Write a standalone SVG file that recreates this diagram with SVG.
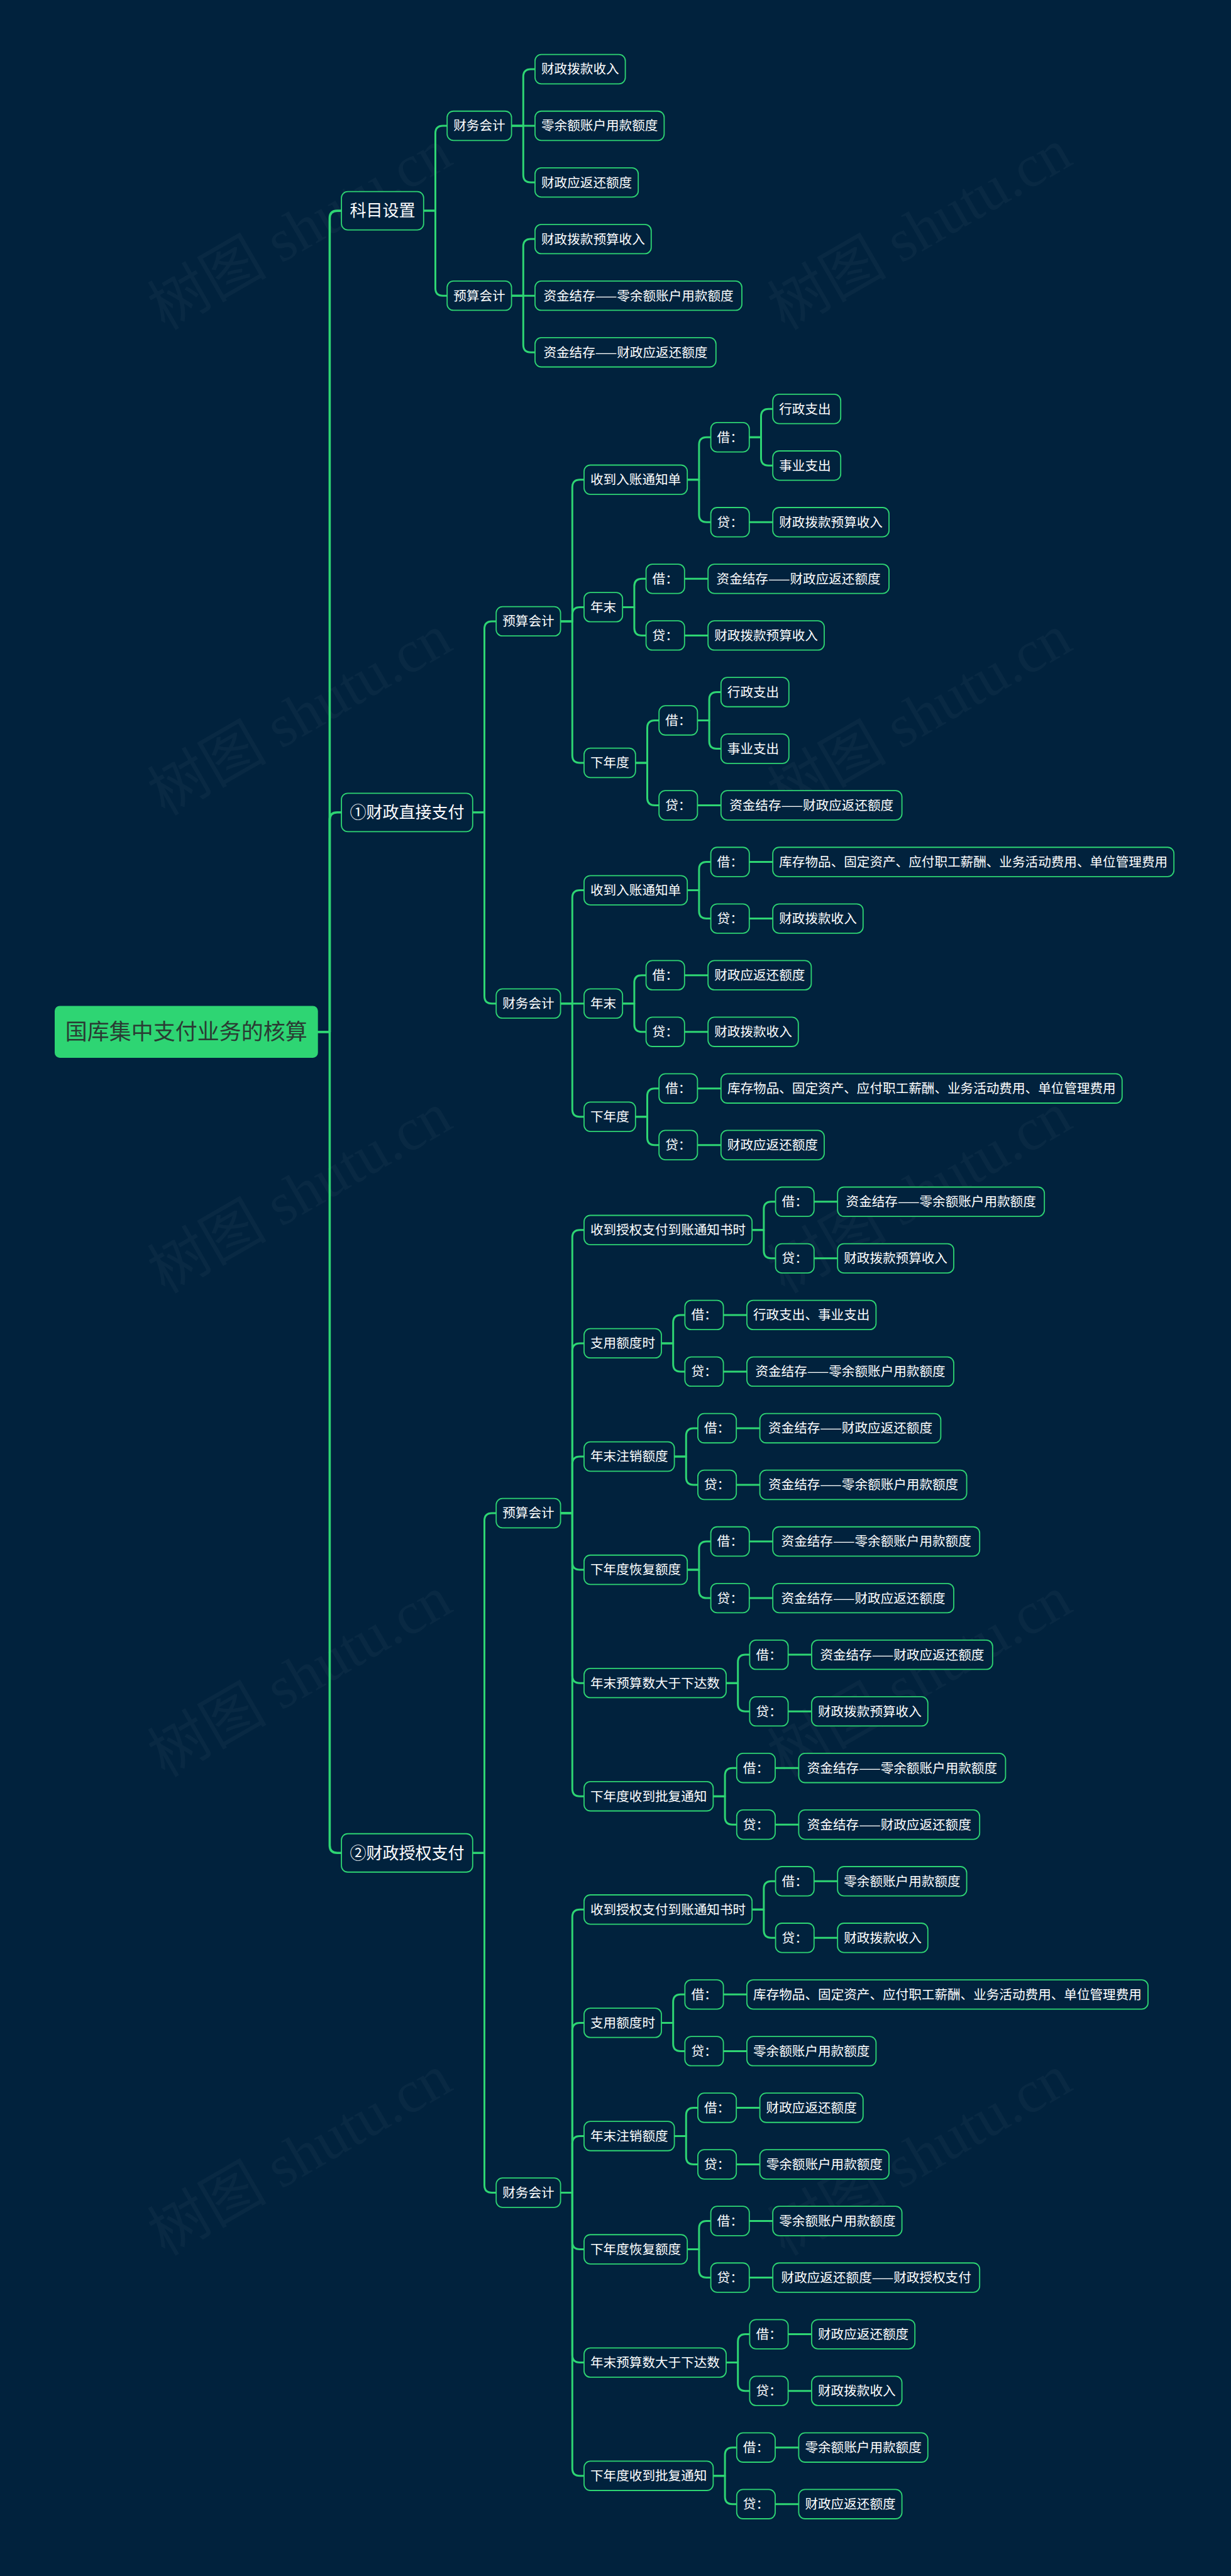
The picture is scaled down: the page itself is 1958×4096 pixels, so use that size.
<svg xmlns="http://www.w3.org/2000/svg" width="1958" height="4096" viewBox="0 0 1958 4096">
<style>
.bg{fill:#01223d}
.wm{fill:#ffffff;fill-opacity:0.035;font-family:"Liberation Serif","Noto Sans CJK SC",serif;font-size:95px}
.c path{fill:none;stroke:#2ed573;stroke-width:3;stroke-linecap:round;stroke-linejoin:round}
.c path.t{stroke-width:3.6}
.n rect{fill:#01223d;stroke:#2ed573;stroke-width:1.8}
.n text{fill:#ffffff;font-family:"Noto Sans CJK SC","Noto Sans",sans-serif;font-size:20.6px;text-anchor:middle}
.l1 text{font-size:26px}
.root rect{fill:#2ed573;stroke:none}
.root text{fill:#2a3b33;font-size:35px}
</style>
<rect class="bg" x="0" y="0" width="1958" height="4096"/>
<g id="watermarks">
<text class="wm" x="262" y="526" transform="rotate(-30 262 526)">树图 shutu.cn</text>
<text class="wm" x="1248" y="526" transform="rotate(-30 1248 526)">树图 shutu.cn</text>
<text class="wm" x="262" y="1298" transform="rotate(-30 262 1298)">树图 shutu.cn</text>
<text class="wm" x="1248" y="1298" transform="rotate(-30 1248 1298)">树图 shutu.cn</text>
<text class="wm" x="262" y="2058" transform="rotate(-30 262 2058)">树图 shutu.cn</text>
<text class="wm" x="1248" y="2058" transform="rotate(-30 1248 2058)">树图 shutu.cn</text>
<text class="wm" x="262" y="2827" transform="rotate(-30 262 2827)">树图 shutu.cn</text>
<text class="wm" x="1248" y="2827" transform="rotate(-30 1248 2827)">树图 shutu.cn</text>
<text class="wm" x="262" y="3588" transform="rotate(-30 262 3588)">树图 shutu.cn</text>
<text class="wm" x="1248" y="3588" transform="rotate(-30 1248 3588)">树图 shutu.cn</text>
</g>
<g id="connectors" class="c">
<path class="t" d="M505.7,1640.68 H524.4 V347.1 Q524.4,335.1 536.4,335.1 H543.1"/>
<path class="t" d="M505.7,1640.68 H524.4 V1303.78 Q524.4,1291.78 536.4,1291.78 H543.1"/>
<path class="t" d="M505.7,1640.68 H524.4 V2934.26 Q524.4,2946.26 536.4,2946.26 H543.1"/>
<path d="M673.8,335.1 H692.5 V212.04 Q692.5,200.04 704.5,200.04 H711.2"/>
<path d="M673.8,335.1 H692.5 V458.16 Q692.5,470.16 704.5,470.16 H711.2"/>
<path d="M813.6,200.04 H832.3 V122 Q832.3,110 844.3,110 H851"/>
<path d="M813.6,200.04 H851"/>
<path d="M813.6,200.04 H832.3 V278.08 Q832.3,290.08 844.3,290.08 H851"/>
<path d="M813.6,470.16 H832.3 V392.12 Q832.3,380.12 844.3,380.12 H851"/>
<path d="M813.6,470.16 H851"/>
<path d="M813.6,470.16 H832.3 V548.2 Q832.3,560.2 844.3,560.2 H851"/>
<path d="M751.8,1291.78 H770.5 V999.89 Q770.5,987.89 782.5,987.89 H789.2"/>
<path d="M751.8,1291.78 H770.5 V1583.66 Q770.5,1595.66 782.5,1595.66 H789.2"/>
<path d="M891.6,987.89 H910.3 V774.79 Q910.3,762.79 922.3,762.79 H929"/>
<path d="M891.6,987.89 H910.3 V977.38 Q910.3,965.38 922.3,965.38 H929"/>
<path d="M891.6,987.89 H910.3 V1200.99 Q910.3,1212.99 922.3,1212.99 H929"/>
<path d="M1093.2,762.79 H1111.9 V707.26 Q1111.9,695.26 1123.9,695.26 H1130.6"/>
<path d="M1093.2,762.79 H1111.9 V818.32 Q1111.9,830.32 1123.9,830.32 H1130.6"/>
<path d="M1191.8,695.26 H1210.5 V662.24 Q1210.5,650.24 1222.5,650.24 H1229.2"/>
<path d="M1191.8,695.26 H1210.5 V728.28 Q1210.5,740.28 1222.5,740.28 H1229.2"/>
<path d="M1191.8,830.32 H1229.2"/>
<path d="M990.2,965.38 H1008.9 V932.36 Q1008.9,920.36 1020.9,920.36 H1027.6"/>
<path d="M990.2,965.38 H1008.9 V998.4 Q1008.9,1010.4 1020.9,1010.4 H1027.6"/>
<path d="M1088.8,920.36 H1126.2"/>
<path d="M1088.8,1010.4 H1126.2"/>
<path d="M1010.8,1212.99 H1029.5 V1157.46 Q1029.5,1145.46 1041.5,1145.46 H1048.2"/>
<path d="M1010.8,1212.99 H1029.5 V1268.52 Q1029.5,1280.52 1041.5,1280.52 H1048.2"/>
<path d="M1109.4,1145.46 H1128.1 V1112.44 Q1128.1,1100.44 1140.1,1100.44 H1146.8"/>
<path d="M1109.4,1145.46 H1128.1 V1178.48 Q1128.1,1190.48 1140.1,1190.48 H1146.8"/>
<path d="M1109.4,1280.52 H1146.8"/>
<path d="M891.6,1595.66 H910.3 V1427.58 Q910.3,1415.58 922.3,1415.58 H929"/>
<path d="M891.6,1595.66 H929"/>
<path d="M891.6,1595.66 H910.3 V1763.74 Q910.3,1775.74 922.3,1775.74 H929"/>
<path d="M1093.2,1415.58 H1111.9 V1382.56 Q1111.9,1370.56 1123.9,1370.56 H1130.6"/>
<path d="M1093.2,1415.58 H1111.9 V1448.6 Q1111.9,1460.6 1123.9,1460.6 H1130.6"/>
<path d="M1191.8,1370.56 H1229.2"/>
<path d="M1191.8,1460.6 H1229.2"/>
<path d="M990.2,1595.66 H1008.9 V1562.64 Q1008.9,1550.64 1020.9,1550.64 H1027.6"/>
<path d="M990.2,1595.66 H1008.9 V1628.68 Q1008.9,1640.68 1020.9,1640.68 H1027.6"/>
<path d="M1088.8,1550.64 H1126.2"/>
<path d="M1088.8,1640.68 H1126.2"/>
<path d="M1010.8,1775.74 H1029.5 V1742.72 Q1029.5,1730.72 1041.5,1730.72 H1048.2"/>
<path d="M1010.8,1775.74 H1029.5 V1808.76 Q1029.5,1820.76 1041.5,1820.76 H1048.2"/>
<path d="M1109.4,1730.72 H1146.8"/>
<path d="M1109.4,1820.76 H1146.8"/>
<path d="M751.8,2946.26 H770.5 V2418.02 Q770.5,2406.02 782.5,2406.02 H789.2"/>
<path d="M751.8,2946.26 H770.5 V3474.5 Q770.5,3486.5 782.5,3486.5 H789.2"/>
<path d="M891.6,2406.02 H910.3 V1967.82 Q910.3,1955.82 922.3,1955.82 H929"/>
<path d="M891.6,2406.02 H910.3 V2147.9 Q910.3,2135.9 922.3,2135.9 H929"/>
<path d="M891.6,2406.02 H910.3 V2327.98 Q910.3,2315.98 922.3,2315.98 H929"/>
<path d="M891.6,2406.02 H910.3 V2484.06 Q910.3,2496.06 922.3,2496.06 H929"/>
<path d="M891.6,2406.02 H910.3 V2664.14 Q910.3,2676.14 922.3,2676.14 H929"/>
<path d="M891.6,2406.02 H910.3 V2844.22 Q910.3,2856.22 922.3,2856.22 H929"/>
<path d="M1196.2,1955.82 H1214.9 V1922.8 Q1214.9,1910.8 1226.9,1910.8 H1233.6"/>
<path d="M1196.2,1955.82 H1214.9 V1988.84 Q1214.9,2000.84 1226.9,2000.84 H1233.6"/>
<path d="M1294.8,1910.8 H1332.2"/>
<path d="M1294.8,2000.84 H1332.2"/>
<path d="M1052,2135.9 H1070.7 V2102.88 Q1070.7,2090.88 1082.7,2090.88 H1089.4"/>
<path d="M1052,2135.9 H1070.7 V2168.92 Q1070.7,2180.92 1082.7,2180.92 H1089.4"/>
<path d="M1150.6,2090.88 H1188"/>
<path d="M1150.6,2180.92 H1188"/>
<path d="M1072.6,2315.98 H1091.3 V2282.96 Q1091.3,2270.96 1103.3,2270.96 H1110"/>
<path d="M1072.6,2315.98 H1091.3 V2349 Q1091.3,2361 1103.3,2361 H1110"/>
<path d="M1171.2,2270.96 H1208.6"/>
<path d="M1171.2,2361 H1208.6"/>
<path d="M1093.2,2496.06 H1111.9 V2463.04 Q1111.9,2451.04 1123.9,2451.04 H1130.6"/>
<path d="M1093.2,2496.06 H1111.9 V2529.08 Q1111.9,2541.08 1123.9,2541.08 H1130.6"/>
<path d="M1191.8,2451.04 H1229.2"/>
<path d="M1191.8,2541.08 H1229.2"/>
<path d="M1155,2676.14 H1173.7 V2643.12 Q1173.7,2631.12 1185.7,2631.12 H1192.4"/>
<path d="M1155,2676.14 H1173.7 V2709.16 Q1173.7,2721.16 1185.7,2721.16 H1192.4"/>
<path d="M1253.6,2631.12 H1291"/>
<path d="M1253.6,2721.16 H1291"/>
<path d="M1134.4,2856.22 H1153.1 V2823.2 Q1153.1,2811.2 1165.1,2811.2 H1171.8"/>
<path d="M1134.4,2856.22 H1153.1 V2889.24 Q1153.1,2901.24 1165.1,2901.24 H1171.8"/>
<path d="M1233,2811.2 H1270.4"/>
<path d="M1233,2901.24 H1270.4"/>
<path d="M891.6,3486.5 H910.3 V3048.3 Q910.3,3036.3 922.3,3036.3 H929"/>
<path d="M891.6,3486.5 H910.3 V3228.38 Q910.3,3216.38 922.3,3216.38 H929"/>
<path d="M891.6,3486.5 H910.3 V3408.46 Q910.3,3396.46 922.3,3396.46 H929"/>
<path d="M891.6,3486.5 H910.3 V3564.54 Q910.3,3576.54 922.3,3576.54 H929"/>
<path d="M891.6,3486.5 H910.3 V3744.62 Q910.3,3756.62 922.3,3756.62 H929"/>
<path d="M891.6,3486.5 H910.3 V3924.7 Q910.3,3936.7 922.3,3936.7 H929"/>
<path d="M1196.2,3036.3 H1214.9 V3003.28 Q1214.9,2991.28 1226.9,2991.28 H1233.6"/>
<path d="M1196.2,3036.3 H1214.9 V3069.32 Q1214.9,3081.32 1226.9,3081.32 H1233.6"/>
<path d="M1294.8,2991.28 H1332.2"/>
<path d="M1294.8,3081.32 H1332.2"/>
<path d="M1052,3216.38 H1070.7 V3183.36 Q1070.7,3171.36 1082.7,3171.36 H1089.4"/>
<path d="M1052,3216.38 H1070.7 V3249.4 Q1070.7,3261.4 1082.7,3261.4 H1089.4"/>
<path d="M1150.6,3171.36 H1188"/>
<path d="M1150.6,3261.4 H1188"/>
<path d="M1072.6,3396.46 H1091.3 V3363.44 Q1091.3,3351.44 1103.3,3351.44 H1110"/>
<path d="M1072.6,3396.46 H1091.3 V3429.48 Q1091.3,3441.48 1103.3,3441.48 H1110"/>
<path d="M1171.2,3351.44 H1208.6"/>
<path d="M1171.2,3441.48 H1208.6"/>
<path d="M1093.2,3576.54 H1111.9 V3543.52 Q1111.9,3531.52 1123.9,3531.52 H1130.6"/>
<path d="M1093.2,3576.54 H1111.9 V3609.56 Q1111.9,3621.56 1123.9,3621.56 H1130.6"/>
<path d="M1191.8,3531.52 H1229.2"/>
<path d="M1191.8,3621.56 H1229.2"/>
<path d="M1155,3756.62 H1173.7 V3723.6 Q1173.7,3711.6 1185.7,3711.6 H1192.4"/>
<path d="M1155,3756.62 H1173.7 V3789.64 Q1173.7,3801.64 1185.7,3801.64 H1192.4"/>
<path d="M1253.6,3711.6 H1291"/>
<path d="M1253.6,3801.64 H1291"/>
<path d="M1134.4,3936.7 H1153.1 V3903.68 Q1153.1,3891.68 1165.1,3891.68 H1171.8"/>
<path d="M1134.4,3936.7 H1153.1 V3969.72 Q1153.1,3981.72 1165.1,3981.72 H1171.8"/>
<path d="M1233,3891.68 H1270.4"/>
<path d="M1233,3981.72 H1270.4"/>
</g>
<g id="nodes">
<g id="root" class="n root"><rect x="87" y="1599.43" width="418.7" height="82.5" rx="8"/><text x="296.35" y="1653.3">国库集中支付业务的核算</text></g>
<g id="n-kmsz" class="n l1"><rect x="543.1" y="304.6" width="130.7" height="61" rx="10"/><text x="608.45" y="344.46">科目设置</text></g>
<g id="n-zj" class="n l1"><rect x="543.1" y="1261.28" width="208.7" height="61" rx="10"/><text x="647.45" y="1301.14">①财政直接支付</text></g>
<g id="n-sq" class="n l1"><rect x="543.1" y="2915.76" width="208.7" height="61" rx="10"/><text x="647.45" y="2955.62">②财政授权支付</text></g>

<g id="n-a1" class="n"><rect x="711.2" y="176.74" width="102.4" height="46.6" rx="10"/><text x="762.4" y="207.46">财务会计</text></g>
<g id="n-a2" class="n"><rect x="711.2" y="446.86" width="102.4" height="46.6" rx="10"/><text x="762.4" y="477.58">预算会计</text></g>
<g id="n-a1-1" class="n"><rect x="851" y="86.7" width="143.6" height="46.6" rx="10"/><text x="922.8" y="117.42">财政拨款收入</text></g>
<g id="n-a1-2" class="n"><rect x="851" y="176.74" width="205.4" height="46.6" rx="10"/><text x="953.7" y="207.46">零余额账户用款额度</text></g>
<g id="n-a1-3" class="n"><rect x="851" y="266.78" width="164.2" height="46.6" rx="10"/><text x="933.1" y="297.5">财政应返还额度</text></g>
<g id="n-a2-1" class="n"><rect x="851" y="356.82" width="184.8" height="46.6" rx="10"/><text x="943.4" y="387.54">财政拨款预算收入</text></g>
<g id="n-a2-2" class="n"><rect x="851" y="446.86" width="329" height="46.6" rx="10"/><text x="1015.5" y="477.58">资金结存——零余额账户用款额度</text></g>
<g id="n-a2-3" class="n"><rect x="851" y="536.9" width="287.8" height="46.6" rx="10"/><text x="994.9" y="567.62">资金结存——财政应返还额度</text></g>

<g id="n-b1" class="n"><rect x="789.2" y="964.59" width="102.4" height="46.6" rx="10"/><text x="840.4" y="995.31">预算会计</text></g>
<g id="n-b11" class="n"><rect x="929" y="739.49" width="164.2" height="46.6" rx="10"/><text x="1011.1" y="770.21">收到入账通知单</text></g>
<g id="n-b11-j" class="n"><rect x="1130.6" y="671.96" width="61.2" height="46.6" rx="10"/><text x="1161.2" y="702.68">借：</text></g>
<g id="n-b11-j1" class="n"><rect x="1229.2" y="626.94" width="108" height="46.6" rx="10"/><text x="1280.4" y="657.66">行政支出</text></g>
<g id="n-b11-j2" class="n"><rect x="1229.2" y="716.98" width="108" height="46.6" rx="10"/><text x="1280.4" y="747.7">事业支出</text></g>
<g id="n-b11-d" class="n"><rect x="1130.6" y="807.02" width="61.2" height="46.6" rx="10"/><text x="1161.2" y="837.74">贷：</text></g>
<g id="n-b11-d1" class="n"><rect x="1229.2" y="807.02" width="184.8" height="46.6" rx="10"/><text x="1321.6" y="837.74">财政拨款预算收入</text></g>
<g id="n-b12" class="n"><rect x="929" y="942.08" width="61.2" height="46.6" rx="10"/><text x="959.6" y="972.8">年末</text></g>
<g id="n-b12-j" class="n"><rect x="1027.6" y="897.06" width="61.2" height="46.6" rx="10"/><text x="1058.2" y="927.78">借：</text></g>
<g id="n-b12-j1" class="n"><rect x="1126.2" y="897.06" width="287.8" height="46.6" rx="10"/><text x="1270.1" y="927.78">资金结存——财政应返还额度</text></g>
<g id="n-b12-d" class="n"><rect x="1027.6" y="987.1" width="61.2" height="46.6" rx="10"/><text x="1058.2" y="1017.82">贷：</text></g>
<g id="n-b12-d1" class="n"><rect x="1126.2" y="987.1" width="184.8" height="46.6" rx="10"/><text x="1218.6" y="1017.82">财政拨款预算收入</text></g>
<g id="n-b13" class="n"><rect x="929" y="1189.69" width="81.8" height="46.6" rx="10"/><text x="969.9" y="1220.41">下年度</text></g>
<g id="n-b13-j" class="n"><rect x="1048.2" y="1122.16" width="61.2" height="46.6" rx="10"/><text x="1078.8" y="1152.88">借：</text></g>
<g id="n-b13-j1" class="n"><rect x="1146.8" y="1077.14" width="108" height="46.6" rx="10"/><text x="1198" y="1107.86">行政支出</text></g>
<g id="n-b13-j2" class="n"><rect x="1146.8" y="1167.18" width="108" height="46.6" rx="10"/><text x="1198" y="1197.9">事业支出</text></g>
<g id="n-b13-d" class="n"><rect x="1048.2" y="1257.22" width="61.2" height="46.6" rx="10"/><text x="1078.8" y="1287.94">贷：</text></g>
<g id="n-b13-d1" class="n"><rect x="1146.8" y="1257.22" width="287.8" height="46.6" rx="10"/><text x="1290.7" y="1287.94">资金结存——财政应返还额度</text></g>

<g id="n-b2" class="n"><rect x="789.2" y="1572.36" width="102.4" height="46.6" rx="10"/><text x="840.4" y="1603.08">财务会计</text></g>
<g id="n-b21" class="n"><rect x="929" y="1392.28" width="164.2" height="46.6" rx="10"/><text x="1011.1" y="1423">收到入账通知单</text></g>
<g id="n-b21-j" class="n"><rect x="1130.6" y="1347.26" width="61.2" height="46.6" rx="10"/><text x="1161.2" y="1377.98">借：</text></g>
<g id="n-b21-j1" class="n"><rect x="1229.2" y="1347.26" width="638" height="46.6" rx="10"/><text x="1548.2" y="1377.98">库存物品、固定资产、应付职工薪酬、业务活动费用、单位管理费用</text></g>
<g id="n-b21-d" class="n"><rect x="1130.6" y="1437.3" width="61.2" height="46.6" rx="10"/><text x="1161.2" y="1468.02">贷：</text></g>
<g id="n-b21-d1" class="n"><rect x="1229.2" y="1437.3" width="143.6" height="46.6" rx="10"/><text x="1301" y="1468.02">财政拨款收入</text></g>
<g id="n-b22" class="n"><rect x="929" y="1572.36" width="61.2" height="46.6" rx="10"/><text x="959.6" y="1603.08">年末</text></g>
<g id="n-b22-j" class="n"><rect x="1027.6" y="1527.34" width="61.2" height="46.6" rx="10"/><text x="1058.2" y="1558.06">借：</text></g>
<g id="n-b22-j1" class="n"><rect x="1126.2" y="1527.34" width="164.2" height="46.6" rx="10"/><text x="1208.3" y="1558.06">财政应返还额度</text></g>
<g id="n-b22-d" class="n"><rect x="1027.6" y="1617.38" width="61.2" height="46.6" rx="10"/><text x="1058.2" y="1648.1">贷：</text></g>
<g id="n-b22-d1" class="n"><rect x="1126.2" y="1617.38" width="143.6" height="46.6" rx="10"/><text x="1198" y="1648.1">财政拨款收入</text></g>
<g id="n-b23" class="n"><rect x="929" y="1752.44" width="81.8" height="46.6" rx="10"/><text x="969.9" y="1783.16">下年度</text></g>
<g id="n-b23-j" class="n"><rect x="1048.2" y="1707.42" width="61.2" height="46.6" rx="10"/><text x="1078.8" y="1738.14">借：</text></g>
<g id="n-b23-j1" class="n"><rect x="1146.8" y="1707.42" width="638" height="46.6" rx="10"/><text x="1465.8" y="1738.14">库存物品、固定资产、应付职工薪酬、业务活动费用、单位管理费用</text></g>
<g id="n-b23-d" class="n"><rect x="1048.2" y="1797.46" width="61.2" height="46.6" rx="10"/><text x="1078.8" y="1828.18">贷：</text></g>
<g id="n-b23-d1" class="n"><rect x="1146.8" y="1797.46" width="164.2" height="46.6" rx="10"/><text x="1228.9" y="1828.18">财政应返还额度</text></g>

<g id="n-c1" class="n"><rect x="789.2" y="2382.72" width="102.4" height="46.6" rx="10"/><text x="840.4" y="2413.44">预算会计</text></g>
<g id="n-c11" class="n"><rect x="929" y="1932.52" width="267.2" height="46.6" rx="10"/><text x="1062.6" y="1963.24">收到授权支付到账通知书时</text></g>
<g id="n-c11-j" class="n"><rect x="1233.6" y="1887.5" width="61.2" height="46.6" rx="10"/><text x="1264.2" y="1918.22">借：</text></g>
<g id="n-c11-j1" class="n"><rect x="1332.2" y="1887.5" width="329" height="46.6" rx="10"/><text x="1496.7" y="1918.22">资金结存——零余额账户用款额度</text></g>
<g id="n-c11-d" class="n"><rect x="1233.6" y="1977.54" width="61.2" height="46.6" rx="10"/><text x="1264.2" y="2008.26">贷：</text></g>
<g id="n-c11-d1" class="n"><rect x="1332.2" y="1977.54" width="184.8" height="46.6" rx="10"/><text x="1424.6" y="2008.26">财政拨款预算收入</text></g>
<g id="n-c12" class="n"><rect x="929" y="2112.6" width="123" height="46.6" rx="10"/><text x="990.5" y="2143.32">支用额度时</text></g>
<g id="n-c12-j" class="n"><rect x="1089.4" y="2067.58" width="61.2" height="46.6" rx="10"/><text x="1120" y="2098.3">借：</text></g>
<g id="n-c12-j1" class="n"><rect x="1188" y="2067.58" width="205.4" height="46.6" rx="10"/><text x="1290.7" y="2098.3">行政支出、事业支出</text></g>
<g id="n-c12-d" class="n"><rect x="1089.4" y="2157.62" width="61.2" height="46.6" rx="10"/><text x="1120" y="2188.34">贷：</text></g>
<g id="n-c12-d1" class="n"><rect x="1188" y="2157.62" width="329" height="46.6" rx="10"/><text x="1352.5" y="2188.34">资金结存——零余额账户用款额度</text></g>
<g id="n-c13" class="n"><rect x="929" y="2292.68" width="143.6" height="46.6" rx="10"/><text x="1000.8" y="2323.4">年末注销额度</text></g>
<g id="n-c13-j" class="n"><rect x="1110" y="2247.66" width="61.2" height="46.6" rx="10"/><text x="1140.6" y="2278.38">借：</text></g>
<g id="n-c13-j1" class="n"><rect x="1208.6" y="2247.66" width="287.8" height="46.6" rx="10"/><text x="1352.5" y="2278.38">资金结存——财政应返还额度</text></g>
<g id="n-c13-d" class="n"><rect x="1110" y="2337.7" width="61.2" height="46.6" rx="10"/><text x="1140.6" y="2368.42">贷：</text></g>
<g id="n-c13-d1" class="n"><rect x="1208.6" y="2337.7" width="329" height="46.6" rx="10"/><text x="1373.1" y="2368.42">资金结存——零余额账户用款额度</text></g>
<g id="n-c14" class="n"><rect x="929" y="2472.76" width="164.2" height="46.6" rx="10"/><text x="1011.1" y="2503.48">下年度恢复额度</text></g>
<g id="n-c14-j" class="n"><rect x="1130.6" y="2427.74" width="61.2" height="46.6" rx="10"/><text x="1161.2" y="2458.46">借：</text></g>
<g id="n-c14-j1" class="n"><rect x="1229.2" y="2427.74" width="329" height="46.6" rx="10"/><text x="1393.7" y="2458.46">资金结存——零余额账户用款额度</text></g>
<g id="n-c14-d" class="n"><rect x="1130.6" y="2517.78" width="61.2" height="46.6" rx="10"/><text x="1161.2" y="2548.5">贷：</text></g>
<g id="n-c14-d1" class="n"><rect x="1229.2" y="2517.78" width="287.8" height="46.6" rx="10"/><text x="1373.1" y="2548.5">资金结存——财政应返还额度</text></g>
<g id="n-c15" class="n"><rect x="929" y="2652.84" width="226" height="46.6" rx="10"/><text x="1042" y="2683.56">年末预算数大于下达数</text></g>
<g id="n-c15-j" class="n"><rect x="1192.4" y="2607.82" width="61.2" height="46.6" rx="10"/><text x="1223" y="2638.54">借：</text></g>
<g id="n-c15-j1" class="n"><rect x="1291" y="2607.82" width="287.8" height="46.6" rx="10"/><text x="1434.9" y="2638.54">资金结存——财政应返还额度</text></g>
<g id="n-c15-d" class="n"><rect x="1192.4" y="2697.86" width="61.2" height="46.6" rx="10"/><text x="1223" y="2728.58">贷：</text></g>
<g id="n-c15-d1" class="n"><rect x="1291" y="2697.86" width="184.8" height="46.6" rx="10"/><text x="1383.4" y="2728.58">财政拨款预算收入</text></g>
<g id="n-c16" class="n"><rect x="929" y="2832.92" width="205.4" height="46.6" rx="10"/><text x="1031.7" y="2863.64">下年度收到批复通知</text></g>
<g id="n-c16-j" class="n"><rect x="1171.8" y="2787.9" width="61.2" height="46.6" rx="10"/><text x="1202.4" y="2818.62">借：</text></g>
<g id="n-c16-j1" class="n"><rect x="1270.4" y="2787.9" width="329" height="46.6" rx="10"/><text x="1434.9" y="2818.62">资金结存——零余额账户用款额度</text></g>
<g id="n-c16-d" class="n"><rect x="1171.8" y="2877.94" width="61.2" height="46.6" rx="10"/><text x="1202.4" y="2908.66">贷：</text></g>
<g id="n-c16-d1" class="n"><rect x="1270.4" y="2877.94" width="287.8" height="46.6" rx="10"/><text x="1414.3" y="2908.66">资金结存——财政应返还额度</text></g>

<g id="n-c2" class="n"><rect x="789.2" y="3463.2" width="102.4" height="46.6" rx="10"/><text x="840.4" y="3493.92">财务会计</text></g>
<g id="n-c21" class="n"><rect x="929" y="3013" width="267.2" height="46.6" rx="10"/><text x="1062.6" y="3043.72">收到授权支付到账通知书时</text></g>
<g id="n-c21-j" class="n"><rect x="1233.6" y="2967.98" width="61.2" height="46.6" rx="10"/><text x="1264.2" y="2998.7">借：</text></g>
<g id="n-c21-j1" class="n"><rect x="1332.2" y="2967.98" width="205.4" height="46.6" rx="10"/><text x="1434.9" y="2998.7">零余额账户用款额度</text></g>
<g id="n-c21-d" class="n"><rect x="1233.6" y="3058.02" width="61.2" height="46.6" rx="10"/><text x="1264.2" y="3088.74">贷：</text></g>
<g id="n-c21-d1" class="n"><rect x="1332.2" y="3058.02" width="143.6" height="46.6" rx="10"/><text x="1404" y="3088.74">财政拨款收入</text></g>
<g id="n-c22" class="n"><rect x="929" y="3193.08" width="123" height="46.6" rx="10"/><text x="990.5" y="3223.8">支用额度时</text></g>
<g id="n-c22-j" class="n"><rect x="1089.4" y="3148.06" width="61.2" height="46.6" rx="10"/><text x="1120" y="3178.78">借：</text></g>
<g id="n-c22-j1" class="n"><rect x="1188" y="3148.06" width="638" height="46.6" rx="10"/><text x="1507" y="3178.78">库存物品、固定资产、应付职工薪酬、业务活动费用、单位管理费用</text></g>
<g id="n-c22-d" class="n"><rect x="1089.4" y="3238.1" width="61.2" height="46.6" rx="10"/><text x="1120" y="3268.82">贷：</text></g>
<g id="n-c22-d1" class="n"><rect x="1188" y="3238.1" width="205.4" height="46.6" rx="10"/><text x="1290.7" y="3268.82">零余额账户用款额度</text></g>
<g id="n-c23" class="n"><rect x="929" y="3373.16" width="143.6" height="46.6" rx="10"/><text x="1000.8" y="3403.88">年末注销额度</text></g>
<g id="n-c23-j" class="n"><rect x="1110" y="3328.14" width="61.2" height="46.6" rx="10"/><text x="1140.6" y="3358.86">借：</text></g>
<g id="n-c23-j1" class="n"><rect x="1208.6" y="3328.14" width="164.2" height="46.6" rx="10"/><text x="1290.7" y="3358.86">财政应返还额度</text></g>
<g id="n-c23-d" class="n"><rect x="1110" y="3418.18" width="61.2" height="46.6" rx="10"/><text x="1140.6" y="3448.9">贷：</text></g>
<g id="n-c23-d1" class="n"><rect x="1208.6" y="3418.18" width="205.4" height="46.6" rx="10"/><text x="1311.3" y="3448.9">零余额账户用款额度</text></g>
<g id="n-c24" class="n"><rect x="929" y="3553.24" width="164.2" height="46.6" rx="10"/><text x="1011.1" y="3583.96">下年度恢复额度</text></g>
<g id="n-c24-j" class="n"><rect x="1130.6" y="3508.22" width="61.2" height="46.6" rx="10"/><text x="1161.2" y="3538.94">借：</text></g>
<g id="n-c24-j1" class="n"><rect x="1229.2" y="3508.22" width="205.4" height="46.6" rx="10"/><text x="1331.9" y="3538.94">零余额账户用款额度</text></g>
<g id="n-c24-d" class="n"><rect x="1130.6" y="3598.26" width="61.2" height="46.6" rx="10"/><text x="1161.2" y="3628.98">贷：</text></g>
<g id="n-c24-d1" class="n"><rect x="1229.2" y="3598.26" width="329" height="46.6" rx="10"/><text x="1393.7" y="3628.98">财政应返还额度——财政授权支付</text></g>
<g id="n-c25" class="n"><rect x="929" y="3733.32" width="226" height="46.6" rx="10"/><text x="1042" y="3764.04">年末预算数大于下达数</text></g>
<g id="n-c25-j" class="n"><rect x="1192.4" y="3688.3" width="61.2" height="46.6" rx="10"/><text x="1223" y="3719.02">借：</text></g>
<g id="n-c25-j1" class="n"><rect x="1291" y="3688.3" width="164.2" height="46.6" rx="10"/><text x="1373.1" y="3719.02">财政应返还额度</text></g>
<g id="n-c25-d" class="n"><rect x="1192.4" y="3778.34" width="61.2" height="46.6" rx="10"/><text x="1223" y="3809.06">贷：</text></g>
<g id="n-c25-d1" class="n"><rect x="1291" y="3778.34" width="143.6" height="46.6" rx="10"/><text x="1362.8" y="3809.06">财政拨款收入</text></g>
<g id="n-c26" class="n"><rect x="929" y="3913.4" width="205.4" height="46.6" rx="10"/><text x="1031.7" y="3944.12">下年度收到批复通知</text></g>
<g id="n-c26-j" class="n"><rect x="1171.8" y="3868.38" width="61.2" height="46.6" rx="10"/><text x="1202.4" y="3899.1">借：</text></g>
<g id="n-c26-j1" class="n"><rect x="1270.4" y="3868.38" width="205.4" height="46.6" rx="10"/><text x="1373.1" y="3899.1">零余额账户用款额度</text></g>
<g id="n-c26-d" class="n"><rect x="1171.8" y="3958.42" width="61.2" height="46.6" rx="10"/><text x="1202.4" y="3989.14">贷：</text></g>
<g id="n-c26-d1" class="n"><rect x="1270.4" y="3958.42" width="164.2" height="46.6" rx="10"/><text x="1352.5" y="3989.14">财政应返还额度</text></g>
</g>
</svg>
